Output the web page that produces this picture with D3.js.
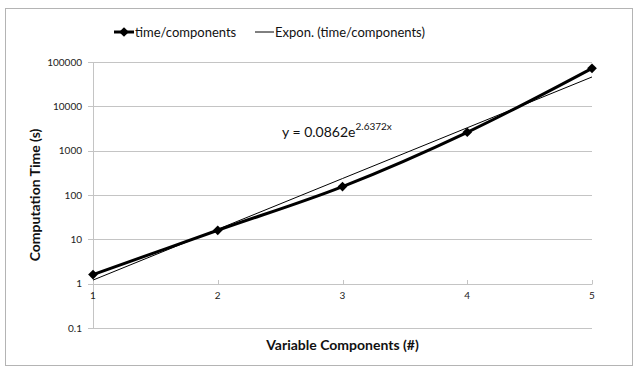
<!DOCTYPE html>
<html>
<head>
<meta charset="utf-8">
<script src="https://cdn.jsdelivr.net/npm/d3@7"></script>
<style>
	body { margin: 0; background: #fff; }
	svg { font-family: Lato, "Open Sans", sans-serif; }
	.grid line { stroke: #c4c4c4; }
	.tick-label { font-size: 10px; fill: #222; }
	.axis-title { font-size: 14px; font-weight: bold; fill: #111; }
	.legend text { font-size: 13px; fill: #111; }
</style>
</head>
<body>
<div class="container"></div>
<script>

const components = [1, 2, 3, 4, 5];
const timePerComponent = [1.6, 16, 155, 2600, 72000];
const yTicks = [0.1, 1, 10, 100, 1000, 10000, 100000];
const yTickLabels = ["0.1", "1", "10", "100", "1000", "10000", "100000"];

// exponential trend coefficients as printed on the chart
const trendA = 0.0862;
const trendB = 2.6372;

const width = 640, height = 367;
const plot = { left: 93, right: 592, top: 62, bottom: 328 };

const svg = d3.select(".container")
	.append("svg")
		.attr("width", width)
		.attr("height", height);

svg.append("rect")
	.attr("x", 5.5)
	.attr("y", 8.5)
	.attr("width", 627)
	.attr("height", 357)
	.attr("fill", "#fff")
	.attr("stroke", "#b4b4b4");

const x = d3.scaleLinear()
	.domain(d3.extent(components))
	.range([plot.left, plot.right]);

const y = d3.scaleLog()
	.domain([yTicks[0], yTicks[yTicks.length - 1]])
	.range([plot.bottom, plot.top]);

// horizontal gridlines + small ticks left of the value axis
const grid = svg.append("g").attr("class", "grid");

grid.selectAll("line.h")
	.data(yTicks)
		.enter()
	.append("line")
		.attr("class", "h")
		.attr("x1", plot.left - 5)
		.attr("x2", plot.right)
		.attr("y1", (v) => Math.round(y(v)) + 0.5)
		.attr("y2", (v) => Math.round(y(v)) + 0.5);

grid.append("line")
	.attr("x1", plot.left + 0.5)
	.attr("x2", plot.left + 0.5)
	.attr("y1", plot.top)
	.attr("y2", plot.bottom);

// category axis sits at y = 1, ticks point up
grid.selectAll("line.xt")
	.data(components.slice(1))
		.enter()
	.append("line")
		.attr("class", "xt")
		.attr("x1", (c) => Math.round(x(c)) + 0.5)
		.attr("x2", (c) => Math.round(x(c)) + 0.5)
		.attr("y1", Math.round(y(1)) + 0.5)
		.attr("y2", Math.round(y(1)) - 4);

svg.selectAll("text.ylab")
	.data(yTicks)
		.enter()
	.append("text")
		.attr("class", "tick-label")
		.attr("x", plot.left - 11)
		.attr("y", (v) => y(v))
		.attr("dy", "0.35em")
		.attr("text-anchor", "end")
		.text((v, i) => yTickLabels[i]);

svg.selectAll("text.xlab")
	.data(components)
		.enter()
	.append("text")
		.attr("class", "tick-label")
		.attr("x", (c) => x(c))
		.attr("y", y(1) + 15)
		.attr("text-anchor", "middle")
		.text((c) => c);

// trend line
const trendLine = d3.line()
	.x((c) => x(c))
	.y((c) => y(trendA * Math.exp(trendB * c)));

svg.append("path")
	.datum(components)
	.attr("d", trendLine)
	.attr("fill", "none")
	.attr("stroke", "#000")
	.attr("stroke-width", 1);

// data series, smoothed
const series = components.map((c, i) => ({ c: c, t: timePerComponent[i] }));

const dataLine = d3.line()
	.curve(d3.curveCatmullRom)
	.x((d) => x(d.c))
	.y((d) => y(d.t));

svg.append("path")
	.datum(series)
	.attr("d", dataLine)
	.attr("fill", "none")
	.attr("stroke", "#000")
	.attr("stroke-width", 3);

const diamond = d3.symbol().type(d3.symbolDiamond2).size(60);

svg.selectAll("path.marker")
	.data(series)
		.enter()
	.append("path")
		.attr("class", "marker")
		.attr("d", diamond)
		.attr("transform", (d) => `translate(${ x(d.c) }, ${ y(d.t) })`)
		.attr("fill", "#000");

// equation label, sits above the lines
const eq = svg.append("text")
	.attr("x", 282)
	.attr("y", 137)
	.attr("font-size", 14)
	.attr("fill", "#111");

eq.append("tspan").text(`y = ${ trendA }e`);
eq.append("tspan")
	.attr("dy", -7)
	.attr("font-size", 10)
	.text(`${ trendB }x`);

// axis titles
svg.append("text")
	.attr("class", "axis-title")
	.attr("x", (plot.left + plot.right) / 2)
	.attr("y", 350)
	.attr("text-anchor", "middle")
	.text("Variable Components (#)");

svg.append("text")
	.attr("class", "axis-title")
	.attr("transform", `translate(40, ${ (plot.top + plot.bottom) / 2 }) rotate(-90)`)
	.attr("text-anchor", "middle")
	.text("Computation Time (s)");

// legend
const legend = svg.append("g").attr("class", "legend");

legend.append("line")
	.attr("x1", 114).attr("x2", 134)
	.attr("y1", 32).attr("y2", 32)
	.attr("stroke", "#000")
	.attr("stroke-width", 3);

legend.append("path")
	.attr("d", diamond)
	.attr("transform", "translate(124, 32)");

legend.append("text")
	.attr("x", 135)
	.attr("y", 32)
	.attr("dy", "0.35em")
	.text("time/components");

legend.append("line")
	.attr("x1", 255).attr("x2", 274)
	.attr("y1", 32).attr("y2", 32)
	.attr("stroke", "#000")
	.attr("stroke-width", 1);

legend.append("text")
	.attr("x", 275)
	.attr("y", 32)
	.attr("dy", "0.35em")
	.text("Expon. (time/components)");

</script>
</body>
</html>
